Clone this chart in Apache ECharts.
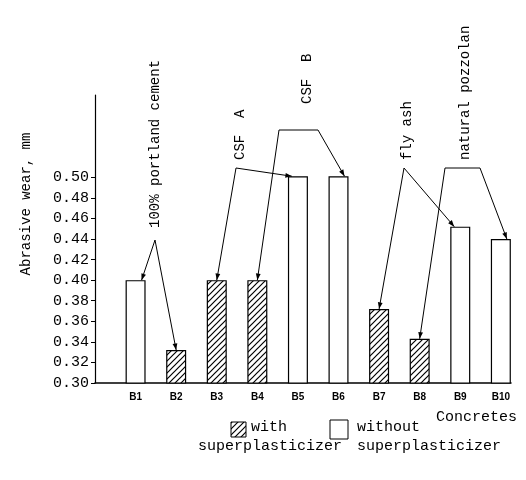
<!DOCTYPE html>
<html>
<head>
<meta charset="utf-8">
<script src="https://cdn.jsdelivr.net/npm/echarts@6/dist/echarts.min.js"></script>
<style>html,body{margin:0;background:#fff}#main{width:526px;height:480px}</style>
</head>
<body>
<div id="main"></div>
<script>
var categories = ['B1','B2','B3','B4','B5','B6','B7','B8','B9','B10'];
var wear = [0.400, 0.332, 0.400, 0.400, 0.501, 0.501, 0.372, 0.343, 0.452, 0.440];
var withSP = [false, true, true, true, false, false, true, true, false, false];
var yTicks = [0.30,0.32,0.34,0.36,0.38,0.40,0.42,0.44,0.46,0.48,0.50];
// groups: label, bars it points to
var groups = [
    {text: '100% portland cement', bars: [0, 1]},
    {text: 'CSF  A', bars: [2, 4]},
    {text: 'CSF  B', bars: [3, 5]},
    {text: 'fly ash', bars: [6, 8]},
    {text: 'natural pozzolan', bars: [7, 9]}
];

var FONT = '"Liberation Mono", "DejaVu Sans Mono", monospace';

// diagonal hatch pattern
var pc = document.createElement('canvas');
pc.width = 6; pc.height = 6;
var cx = pc.getContext('2d');
cx.fillStyle = '#fff'; cx.fillRect(0, 0, 6, 6);
cx.strokeStyle = '#000'; cx.lineWidth = 1.2;
cx.beginPath();
cx.moveTo(-1, 7); cx.lineTo(7, -1);
cx.moveTo(-4, 4); cx.lineTo(4, -4);
cx.moveTo(2, 10); cx.lineTo(10, 2);
cx.stroke();
var hatch = {image: pc, repeat: 'repeat'};

var barData = wear.map(function (v, i) {
    return {value: [i + 1, v], itemStyle: {color: withSP[i] ? hatch : '#fff'}};
});

var myChart = echarts.init(document.getElementById('main'));
myChart.setOption({
    animation: false,
    grid: {left: 95, right: 15, top: 95, bottom: 97},
    xAxis: {
        type: 'value', min: 0, max: 10.25, interval: 1,
        axisLine: {lineStyle: {color: '#000', width: 1.5}},
        axisTick: {show: false},
        splitLine: {show: false},
        axisLabel: {
            color: '#000', fontSize: 10, fontWeight: 'bold', fontFamily: 'Arial', margin: 9,
            formatter: function (v) { return categories[v - 1] || ''; }
        },
        name: 'Concretes', nameLocation: 'end', nameGap: 0,
        nameTextStyle: {fontFamily: FONT, fontSize: 15, color: '#000', align: 'right',
            verticalAlign: 'top', padding: [27, -6, 0, 0]}
    },
    yAxis: {
        type: 'value', min: 0.30, max: 0.58, interval: 0.02,
        axisLine: {show: true, lineStyle: {color: '#000', width: 1.2}},
        axisTick: {show: true, length: 4, customValues: yTicks, lineStyle: {color: '#000'}},
        splitLine: {show: false},
        axisLabel: {
            customValues: yTicks, color: '#000', fontFamily: FONT, fontSize: 15, margin: 6,
            formatter: function (v) { return v.toFixed(2); }
        },
        name: 'Abrasive wear, mm', nameLocation: 'middle', nameGap: 62, nameRotate: 90,
        nameTextStyle: {fontFamily: FONT, fontSize: 14, color: '#000', padding: [0, 0, 0, 70]}
    },
    series: [{
        type: 'bar', barWidth: 20, data: barData,
        itemStyle: {borderColor: '#000', borderWidth: 1.2}
    }]
});

// annotation geometry: label position, apex / bracket ends in pixels
var annos = [
    {tx: 155, ty: 228, apex: [[155, 240]]},
    {tx: 240, ty: 160, apex: [[236, 168]]},
    {tx: 307, ty: 104, apex: [[279, 130], [318, 130]]},
    {tx: 407, ty: 160, apex: [[404, 168]]},
    {tx: 465, ty: 160, apex: [[445, 168], [480, 168]]}
];
var sides = [[1, 0], [0, -1], [0, 1], [0, -1], [0, 1]];
var graphics = [];
groups.forEach(function (g, k) {
    var a = annos[k];
    graphics.push({type: 'text', x: a.tx, y: a.ty, rotation: Math.PI / 2,
        style: {text: g.text, font: '14px ' + FONT, fill: '#000', align: 'left', verticalAlign: 'middle'}});
    var ends = g.bars.map(function (b, j) {
        var p = myChart.convertToPixel({gridIndex: 0}, [b + 1, wear[b]]);
        return [p[0] + sides[k][j] * 6, p[1]];
    });
    var left = a.apex[0], right = a.apex[a.apex.length - 1];
    if (a.apex.length > 1) {
        graphics.push({type: 'line', shape: {x1: left[0], y1: left[1], x2: right[0], y2: right[1]},
            style: {stroke: '#000', lineWidth: 1}});
    }
    [left, right].forEach(function (s, j) {
        var e = ends[j];
        graphics.push({type: 'line', shape: {x1: s[0], y1: s[1], x2: e[0], y2: e[1]},
            style: {stroke: '#000', lineWidth: 1}});
        var ang = Math.atan2(e[1] - s[1], e[0] - s[0]);
        var L = 7, w = 0.35;
        graphics.push({type: 'polygon', shape: {points: [
            [e[0], e[1]],
            [e[0] - L * Math.cos(ang - w), e[1] - L * Math.sin(ang - w)],
            [e[0] - L * Math.cos(ang + w), e[1] - L * Math.sin(ang + w)]
        ]}, style: {fill: '#000'}});
    });
});
// legend
var LF = '15px ' + FONT;
graphics.push({type: 'rect', shape: {x: 231, y: 422, width: 15, height: 15},
    style: {fill: hatch, stroke: '#000', lineWidth: 1}});
graphics.push({type: 'text', x: 251, y: 420, style: {text: 'with', font: LF, fill: '#000'}});
graphics.push({type: 'text', x: 198, y: 439, style: {text: 'superplasticizer', font: LF, fill: '#000'}});
graphics.push({type: 'rect', shape: {x: 330, y: 420, width: 18, height: 19},
    style: {fill: '#fff', stroke: '#000', lineWidth: 1}});
graphics.push({type: 'text', x: 357, y: 420, style: {text: 'without', font: LF, fill: '#000'}});
graphics.push({type: 'text', x: 357, y: 439, style: {text: 'superplasticizer', font: LF, fill: '#000'}});
myChart.setOption({graphic: graphics});
</script>
</body>
</html>
